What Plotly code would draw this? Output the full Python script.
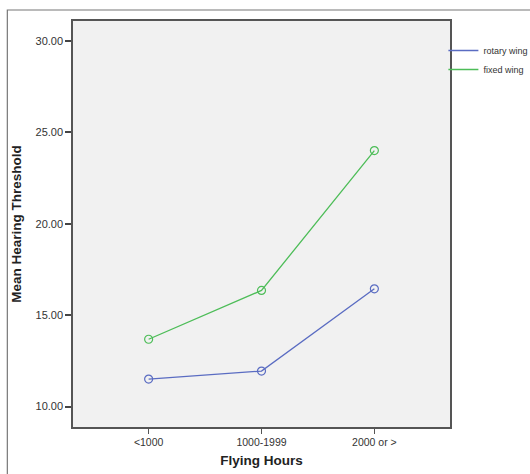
import plotly.graph_objects as go

categories = ["<1000", "1000-1999", "2000 or >"]
rotary_wing = [11.5, 11.94, 16.44]
fixed_wing = [13.68, 16.35, 24.0]
y_ticks = [10, 15, 20, 25, 30]
y_tick_labels = ["10.00", "15.00", "20.00", "25.00", "30.00"]

BLUE = "#5a6cc2"
GREEN = "#4dbd58"
FONT = "Liberation Sans, Arial, sans-serif"

fig = go.Figure()
xs = list(range(len(categories)))
for name, vals, col in [("rotary wing", rotary_wing, BLUE), ("fixed wing", fixed_wing, GREEN)]:
    fig.add_trace(go.Scatter(
        x=xs, y=vals, mode="lines+markers", name=name, showlegend=False,
        line=dict(color=col, width=1.3),
        marker=dict(symbol="circle-open", size=8, color=col, line=dict(width=1.2, color=col)),
        hoverinfo="skip",
    ))
for name, col in [("rotary wing", BLUE), ("fixed wing", GREEN)]:
    fig.add_trace(go.Scatter(x=[None], y=[None], mode="lines", name=name,
                             line=dict(color=col, width=1.3), showlegend=True))

W, H = 530, 474
L, T = 73, 21
pw, ph = 376.6, 406.2
R = W - L - pw
B = H - T - ph

fig.update_layout(
    width=W, height=H,
    margin=dict(l=L, r=R, t=T, b=B, pad=0, autoexpand=False),
    paper_bgcolor="white",
    plot_bgcolor="#f1f1f1",
    font=dict(family=FONT, color="#333333", size=11),
    legend=dict(
        x=(443 - L) / pw, y=1 - (36 - T) / ph, xanchor="left", yanchor="top",
        font=dict(size=9, color="#333333"), bgcolor="rgba(0,0,0,0)",
        itemwidth=30, tracegroupgap=0, borderwidth=0,
    ),
    xaxis=dict(
        range=[-0.67, 2.67], tickvals=xs, ticktext=categories,
        showgrid=False, zeroline=False,
        showline=True, linecolor="#555555", linewidth=1.5, mirror=True,
        ticks="outside", ticklen=5, tickcolor="#555555", tickwidth=1.2,
        tickfont=dict(size=10.5, color="#333333"),
        title=dict(text="<b>Flying Hours</b>", font=dict(size=13.5, color="#222222"), standoff=8),
    ),
    yaxis=dict(
        range=[8.88, 31.09], tickvals=y_ticks, ticktext=y_tick_labels,
        showgrid=False, zeroline=False,
        showline=True, linecolor="#555555", linewidth=1.5, mirror=True,
        ticks="outside", ticklen=6, tickcolor="#444444", tickwidth=1.5,
        tickfont=dict(size=11, color="#333333"),
        title=dict(text="<b>Mean Hearing Threshold</b>", font=dict(size=13.5, color="#222222"), standoff=11),
    ),
)

# outer frame of the original figure
fig.add_shape(type="rect", xref="paper", yref="paper",
              x0=(7.4 - L) / pw, x1=(W + 10 - L) / pw,
              y0=-(H + 10 - (H - B)) / ph, y1=1 + (T - 10) / ph,
              line=dict(color="#777777", width=1.2), fillcolor="rgba(0,0,0,0)", layer="above")

fig.write_html("out.html",
               config={"displayModeBar": False},
               post_script="document.body.style.margin='0';document.body.style.overflow='hidden';")
